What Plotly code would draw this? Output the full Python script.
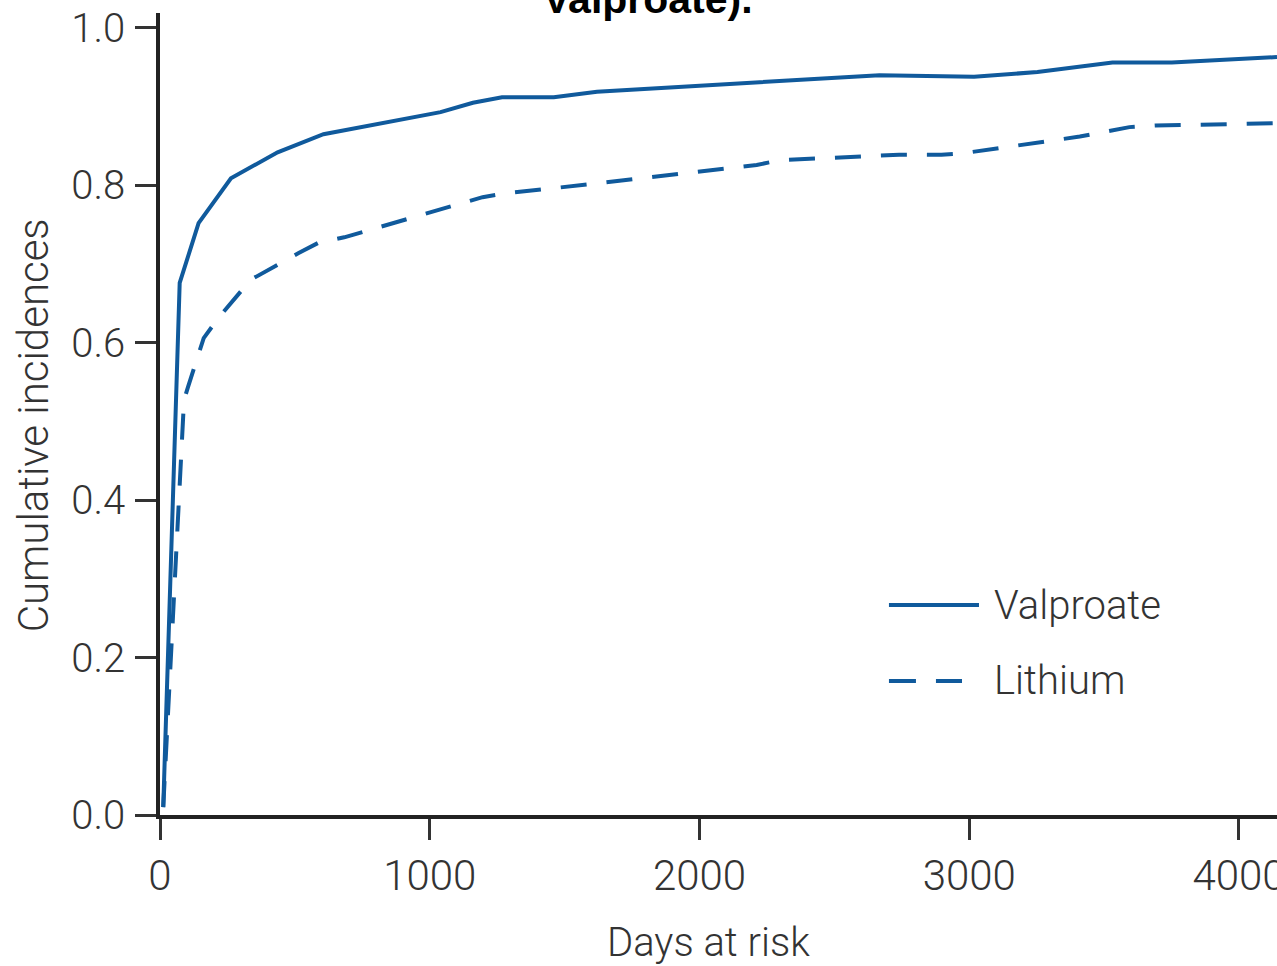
import plotly.graph_objects as go

# Data
valproate_days = [12, 73, 143, 263, 436, 606, 1040, 1160, 1268, 1460, 1620, 2667, 3018, 3253, 3531, 3751, 4141]
valproate_ci = [0.01, 0.676, 0.752, 0.809, 0.842, 0.865, 0.893, 0.905, 0.912, 0.912, 0.919, 0.940, 0.938, 0.944, 0.956, 0.956, 0.963]

lithium_days = [12, 89, 104, 162, 220, 336, 514, 587, 683, 1029, 1196, 1283, 1475, 2212, 2300, 2740, 2897, 2982, 3410, 3594, 3690, 4141]
lithium_ci = [0.01, 0.527, 0.544, 0.606, 0.633, 0.680, 0.714, 0.727, 0.734, 0.769, 0.785, 0.790, 0.797, 0.826, 0.832, 0.839, 0.839, 0.841, 0.862, 0.874, 0.876, 0.879]

x_ticks = [0, 1000, 2000, 3000, 4000]
y_ticks = [0.0, 0.2, 0.4, 0.6, 0.8, 1.0]
y_tick_labels = ["0.0", "0.2", "0.4", "0.6", "0.8", "1.0"]

series_names = ["Valproate", "Lithium"]
title_text = "Valproate)."
x_title = "Days at risk"
y_title = "Cumulative incidences"

BLUE = "#105a9c"
TXT = "#333333"
FONT = "Roboto"

fig = go.Figure()
fig.add_trace(go.Scatter(x=valproate_days, y=valproate_ci, mode="lines",
                         name=series_names[0], line=dict(color=BLUE, width=4),
                         showlegend=False))
fig.add_trace(go.Scatter(x=lithium_days, y=lithium_ci, mode="lines",
                         name=series_names[1], line=dict(color=BLUE, width=4, dash="26px,20px"),
                         showlegend=False))

axis_common = dict(showline=True, linecolor="#222222", linewidth=3.5, ticks="outside",
                   ticklen=21, tickwidth=2.5, tickcolor="#333333", showgrid=False,
                   zeroline=False, ticklabeloverflow="allow", automargin=False)

fig.update_xaxes(range=[0, 4141], tickvals=x_ticks, ticklabelstandoff=0,
                 tickfont=dict(family=FONT, size=42, color=TXT, weight=300),
                 **axis_common)
fig.update_yaxes(range=[0, 1.019], tickvals=y_ticks, ticktext=y_tick_labels, ticklabelstandoff=2,
                 tickfont=dict(family=FONT, size=40, color=TXT, weight=300),
                 **axis_common)

# Axis titles
fig.add_annotation(xref="paper", yref="paper", x=0.4906, y=-0.1596, xanchor="center", yanchor="middle",
                   text=x_title, showarrow=False,
                   font=dict(family=FONT, size=40, color=TXT, weight=300))
fig.add_annotation(xref="paper", yref="paper", x=-0.1137, y=0.486, xanchor="center", yanchor="middle",
                   text=y_title, showarrow=False, textangle=-90,
                   font=dict(family=FONT, size=42, color=TXT, weight=300))

# Legend drawn as key lines and labels
fig.add_shape(type="line", xref="paper", yref="paper", x0=0.6526, x1=0.7332, y0=0.2618, y1=0.2618,
              line=dict(color=BLUE, width=4))
fig.add_shape(type="line", xref="paper", yref="paper", x0=0.6526, x1=0.7180, y0=0.1671, y1=0.1671,
              line=dict(color=BLUE, width=4, dash="27px,20px"))
fig.add_annotation(xref="paper", yref="paper", x=0.745, y=0.2618, xanchor="left", yanchor="middle",
                   text=series_names[0], showarrow=False,
                   font=dict(family=FONT, size=40, color=TXT, weight=300))
fig.add_annotation(xref="paper", yref="paper", x=0.745, y=0.1671, xanchor="left", yanchor="middle",
                   text=series_names[1], showarrow=False,
                   font=dict(family=FONT, size=40, color=TXT, weight=300))

# Title, cut at the top edge as in the reference
fig.add_annotation(xref="paper", yref="paper", x=0.4370, y=1.0, yshift=-11, xanchor="center", yanchor="bottom",
                   text="<b>" + title_text + "</b>", showarrow=False,
                   font=dict(family="Liberation Sans", size=41, color="black"))

fig.update_layout(width=1277, height=966, margin=dict(l=160, r=0, t=13, b=151),
                  paper_bgcolor="white", plot_bgcolor="white", showlegend=False)

fig.write_html("out.html")
